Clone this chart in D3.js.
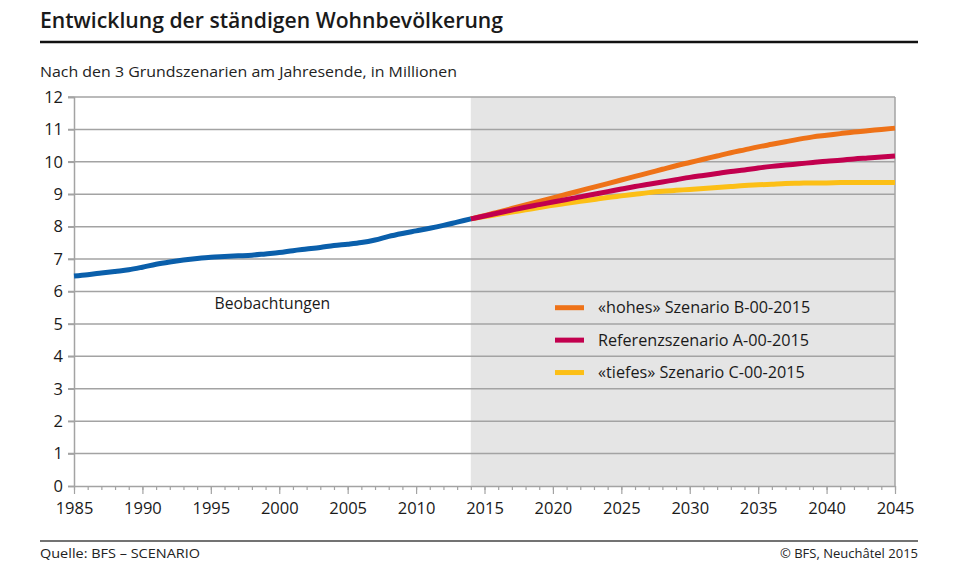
<!DOCTYPE html>
<html><head><meta charset="utf-8">
<script src="https://cdn.jsdelivr.net/npm/d3@7"></script>
<style>
body{margin:0;background:#fff;}
svg{display:block;font-family:"Open Sans",Lato,sans-serif;}
</style></head>
<body><svg id="c" width="960" height="578"></svg>
<script>
const obsYears = d3.range(1985, 2015);
const observed = [6.48,6.52,6.57,6.62,6.67,6.75,6.84,6.91,6.97,7.02,7.06,7.08,7.10,7.12,7.16,7.20,7.26,7.31,7.36,7.42,7.46,7.51,7.59,7.70,7.79,7.87,7.95,8.04,8.14,8.24];
const scenYears = d3.range(2014, 2046);
const scenA = [8.24,8.33,8.42,8.51,8.60,8.68,8.76,8.84,8.92,9.00,9.08,9.16,9.24,9.31,9.38,9.45,9.52,9.58,9.64,9.70,9.75,9.81,9.86,9.90,9.94,9.98,10.02,10.05,10.09,10.12,10.15,10.18];
const scenB = [8.24,8.34,8.45,8.56,8.67,8.78,8.89,9.00,9.11,9.22,9.33,9.44,9.55,9.66,9.77,9.88,9.98,10.08,10.18,10.28,10.37,10.46,10.54,10.62,10.70,10.77,10.82,10.87,10.92,10.96,11.00,11.04];
const scenC = [8.24,8.31,8.38,8.45,8.52,8.59,8.66,8.72,8.78,8.84,8.90,8.95,9.00,9.05,9.09,9.12,9.15,9.18,9.21,9.24,9.27,9.29,9.31,9.33,9.34,9.35,9.35,9.36,9.36,9.36,9.36,9.36];
const yTicks = d3.range(0, 13);
const xLabels = d3.range(1985, 2046, 5);
const legendLabels = ["«hohes» Szenario B-00-2015","Referenzszenario A-00-2015","«tiefes» Szenario C-00-2015"];
const colors = {obs:"#0a5fab", A:"#c2004e", B:"#ee7218", C:"#fcbf16"};

const svg = d3.select("#c");
const L=74, R=895, T=97, B=486;
const x = d3.scaleLinear().domain([1985,2045]).range([L,R]);
const y = d3.scaleLinear().domain([0,12]).range([B,T]);

// title
svg.append("text").attr("x",40).attr("y",28).attr("font-size",21).attr("font-weight",600)
  .attr("fill","#1a1a1a").attr("textLength",463).attr("lengthAdjust","spacingAndGlyphs")
  .text("Entwicklung der ständigen Wohnbevölkerung");
svg.append("line").attr("x1",40).attr("x2",918).attr("y1",42).attr("y2",42).attr("stroke","#111").attr("stroke-width",2.5);
svg.append("text").attr("x",40).attr("y",77).attr("font-size",14).attr("fill","#222")
  .attr("textLength",417).attr("lengthAdjust","spacingAndGlyphs")
  .text("Nach den 3 Grundszenarien am Jahresende, in Millionen");

// shaded projection area
svg.append("rect").attr("x",x(2014)).attr("y",y(12)).attr("width",x(2045)-x(2014)).attr("height",y(0)-y(12)).attr("fill","#e5e5e5");

// gridlines
svg.append("g").selectAll("line").data(yTicks.filter(d=>d>0)).join("line")
  .attr("x1",L-6).attr("x2",R).attr("y1",d=>y(d)).attr("y2",d=>y(d))
  .attr("stroke","#a3a3a3").attr("stroke-width",1.5);
// right border
svg.append("line").attr("x1",R).attr("x2",R).attr("y1",y(12)).attr("y2",y(0)).attr("stroke","#a3a3a3").attr("stroke-width",1.5);

// y axis
const yAxis = svg.append("g").attr("transform",`translate(${L},0)`)
  .call(d3.axisLeft(y).tickValues(yTicks).tickSize(6).tickPadding(5).tickFormat(d3.format("d")));
yAxis.select(".domain").attr("stroke","#a3a3a3").attr("stroke-width",1.5);
yAxis.selectAll(".tick line").attr("stroke","#a3a3a3").attr("stroke-width",1.5);
yAxis.selectAll("text").attr("font-size",16.5).attr("fill","#1a1a1a").attr("font-family","\"Open Sans\",sans-serif");

// x axis minor ticks
const xAxisMinor = svg.append("g").attr("transform",`translate(0,${B})`)
  .call(d3.axisBottom(x).tickValues(d3.range(1985,2046)).tickSize(4).tickFormat(""));
xAxisMinor.select(".domain").remove();
xAxisMinor.selectAll(".tick line").attr("stroke","#a3a3a3").attr("stroke-width",1.2);
const xAxis = svg.append("g").attr("transform",`translate(0,${B})`)
  .call(d3.axisBottom(x).tickValues(xLabels).tickSize(8).tickPadding(8).tickFormat(d3.format("d")).tickSizeOuter(0));
xAxis.select(".domain").attr("stroke","#a3a3a3").attr("stroke-width",1.5);
xAxis.selectAll(".tick line").attr("stroke","#a3a3a3").attr("stroke-width",1.2);
xAxis.selectAll("text").attr("font-size",16.5).attr("fill","#1a1a1a").attr("font-family","\"Open Sans\",sans-serif");

// lines
const line = d3.line().x(d=>x(d[0])).y(d=>y(d[1])).curve(d3.curveMonotoneX);
const series = [
  {v:scenC, c:colors.C, yrs:scenYears},
  {v:scenB, c:colors.B, yrs:scenYears},
  {v:scenA, c:colors.A, yrs:scenYears},
  {v:observed, c:colors.obs, yrs:obsYears}
];
series.forEach(s=>{
  svg.append("path").datum(s.yrs.map((yr,i)=>[yr,s.v[i]])).attr("d",line)
    .attr("fill","none").attr("stroke",s.c).attr("stroke-width",5).attr("stroke-linejoin","round");
});

// Beobachtungen label
svg.append("text").attr("x",x(1999.5)).attr("y",y(5.45)).attr("text-anchor","middle")
  .attr("font-size",15.7).attr("fill","#1a1a1a").text("Beobachtungen");

// legend
const legColors = [colors.B, colors.A, colors.C];
const legY = [5.5, 4.5, 3.5];
legendLabels.forEach((lab,i)=>{
  svg.append("line").attr("x1",555).attr("x2",584).attr("y1",y(legY[i])).attr("y2",y(legY[i]))
    .attr("stroke",legColors[i]).attr("stroke-width",5);
  svg.append("text").attr("x",598).attr("y",y(legY[i])).attr("dy","0.35em")
    .attr("font-size",16.2).attr("fill","#1a1a1a").text(lab);
});

// footer
svg.append("line").attr("x1",40).attr("x2",918).attr("y1",541).attr("y2",541).attr("stroke","#444").attr("stroke-width",1.5);
svg.append("text").attr("x",40).attr("y",558).attr("font-size",13).attr("fill","#222")
  .attr("textLength",160).attr("lengthAdjust","spacingAndGlyphs").text("Quelle: BFS – SCENARIO");
svg.append("text").attr("x",918).attr("y",558).attr("font-size",13).attr("fill","#222").attr("text-anchor","end")
  .text("© BFS, Neuchâtel 2015");
</script></body></html>
